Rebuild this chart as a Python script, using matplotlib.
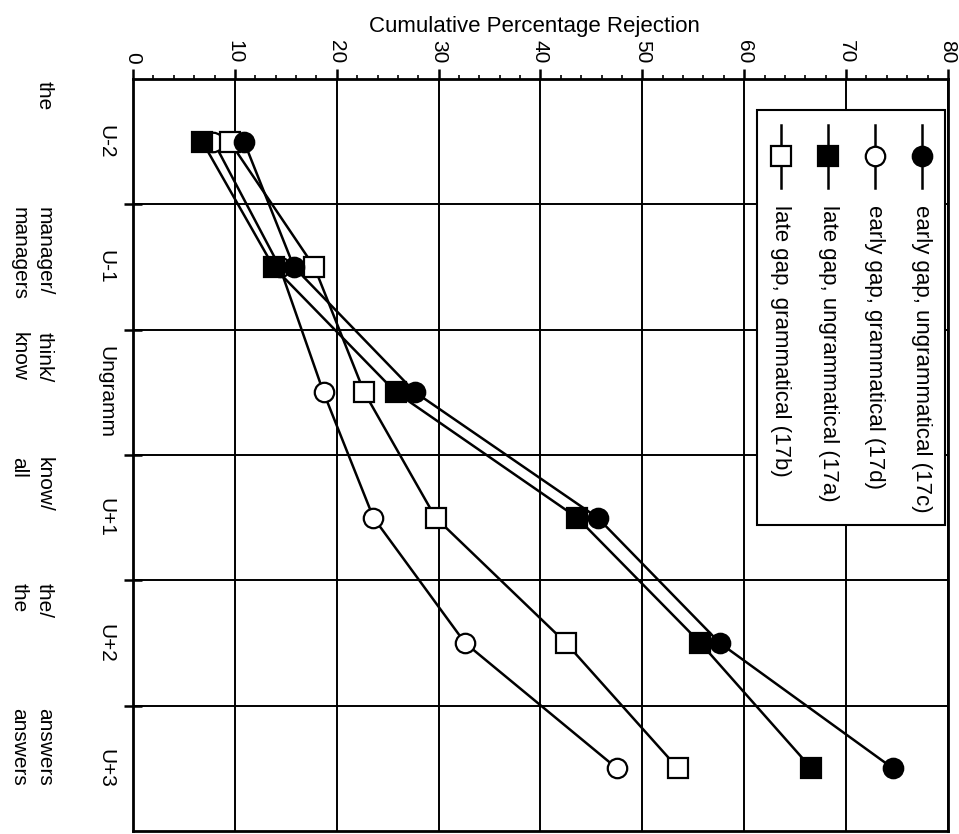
import matplotlib
matplotlib.use("Agg")
import matplotlib.pyplot as plt
import matplotlib.patches as patches
import matplotlib.transforms as mtransforms
from matplotlib.ticker import MultipleLocator

plt.rcParams['font.family'] = ['Liberation Sans', 'DejaVu Sans']

# data (percent rejection, cumulative)
positions = ["U-2", "U-1", "Ungramm", "U+1", "U+2", "U+3"]
words_line1 = ["the", "manager/", "think/", "know/", "the/", "answers"]
words_line2 = ["", "managers", "know", "all", "the", "answers"]

early_ungram = [10.9, 15.8, 27.7, 45.6, 57.6, 74.6]   # 17c
early_gram = [7.9, 14.4, 18.7, 23.6, 32.6, 47.5]      # 17d
late_ungram = [6.8, 13.8, 25.8, 43.6, 55.7, 66.6]     # 17a
late_gram = [9.5, 17.8, 22.7, 29.7, 42.5, 53.5]       # 17b

labels = ["early gap, ungrammatical (17c)", "early gap, grammatical (17d)",
          "late gap, ungrammatical (17a)", "late gap, grammatical (17b)"]

fig = plt.figure(figsize=(9.59, 8.34), dpi=100)
ax = fig.add_axes([0.1387, 0.0036, 0.8498, 0.9017])

idx = list(range(len(positions)))

# draw order: open circle, open square, filled square, filled circle
styles = [
    (early_ungram, 'o', 'black', 6),
    (early_gram, 'o', 'white', 3),
    (late_ungram, 's', 'black', 5),
    (late_gram, 's', 'white', 4),
]
for vals, mk, fc, z in styles:
    ax.plot(vals, idx, color='black', lw=1.8, marker=mk, markersize=14,
            markerfacecolor=fc, markeredgecolor='black', markeredgewidth=1.6,
            zorder=z)

ax.set_xlim(0, 80)
ax.set_ylim(5.5, -0.5)

ax.xaxis.tick_top()
ax.xaxis.set_major_locator(MultipleLocator(10))
ax.xaxis.set_minor_locator(MultipleLocator(2))
ax.tick_params(axis='x', which='major', direction='out', length=7, width=1.8,
               labelsize=15, labelrotation=-90, pad=4)
ax.tick_params(axis='x', which='minor', direction='out', length=3, width=1.2)

ax.set_yticks([0.5, 1.5, 2.5, 3.5, 4.5])
ax.set_yticklabels([])
ax.tick_params(axis='y', which='major', direction='inout', length=13, width=1.8)

ax.grid(True, which='major', color='black', lw=1.4)
ax.set_axisbelow(True)
for s in ax.spines.values():
    s.set_linewidth(2)

fig.text(534 / 959, 1 - 32 / 834, "Cumulative Percentage Rejection",
         ha='center', va='baseline', fontsize=16)

# category + word labels on the left
trans = mtransforms.blended_transform_factory(ax.transAxes, ax.transData)
for i, name in enumerate(positions):
    ax.text(-0.0331, i, name, transform=trans, rotation=-90,
            rotation_mode='anchor', ha='center', va='center', fontsize=15)
    ax.text(-0.109, i - 0.48, words_line1[i], transform=trans, rotation=-90,
            rotation_mode='anchor', ha='left', va='center', fontsize=15)
    ax.text(-0.140, i - 0.48, words_line2[i], transform=trans, rotation=-90,
            rotation_mode='anchor', ha='left', va='center', fontsize=15)

# rotated legend drawn by hand
box = patches.Rectangle((0.766, 0.407), 0.23, 0.552, transform=ax.transAxes,
                        facecolor='white', edgecolor='black', lw=1.5, zorder=7)
ax.add_patch(box)
leg_x = [0.968, 0.910, 0.853, 0.795]
for (vals, mk, fc, z), x, lab in zip(styles, leg_x, labels):
    ax.plot([x, x], [0.939, 0.855], transform=ax.transAxes, color='black',
            lw=1.8, zorder=8, clip_on=False)
    ax.plot([x], [0.897], transform=ax.transAxes, marker=mk, markersize=14,
            markerfacecolor=fc, markeredgecolor='black', markeredgewidth=1.6,
            zorder=9, clip_on=False)
    ax.text(x, 0.832, lab, transform=ax.transAxes, rotation=-90,
            rotation_mode='anchor', ha='left', va='center', fontsize=16,
            zorder=9)

plt.savefig("out.png", dpi=100)
